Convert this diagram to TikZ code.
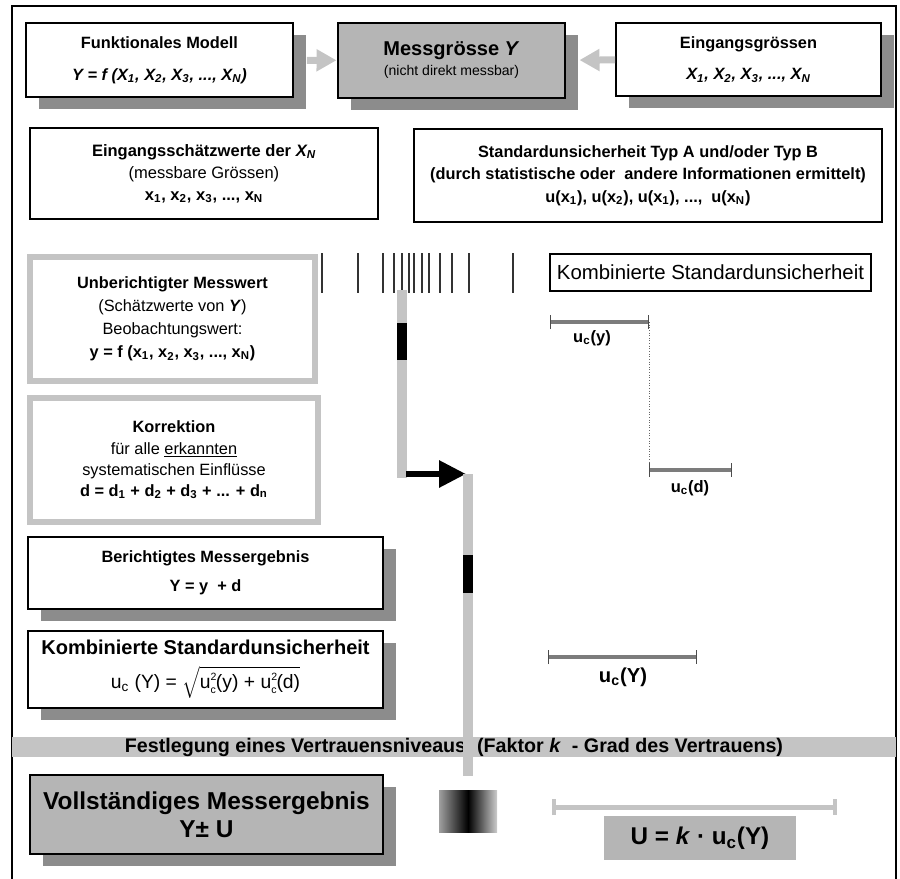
\documentclass[tikz,border=0pt]{standalone}
\usepackage{fontspec}
\setmainfont{Liberation Sans}
\usetikzlibrary{arrows.meta,shadows}
\definecolor{boxgray}{HTML}{B5B5B5}
\definecolor{shadowgray}{HTML}{8C8C8C}
\definecolor{bargray}{HTML}{C4C4C4}
\definecolor{markgray}{HTML}{7C7C7C}
\newcommand\fsize[2]{\fontsize{#1}{#2}\selectfont}
\newcommand\uc{u\rlap{\raisebox{0.75ex}{\fsize{6}{6}2}}\raisebox{-0.55ex}{\fsize{6}{6}c}} % u with stacked 2 and c
\tikzset{%
  >=Triangle, % option for nice arrows
  inner sep=0pt,%
  plain box/.style={draw,line width=1.1pt,fill=white,align=center},%
  shadow box/.style={plain box,drop shadow={shadow xshift=0.26cm,
    shadow yshift=-0.24cm,fill=shadowgray,opacity=1}},%
  frame box/.style={draw=bargray,line width=0.12cm,fill=white,align=center},%
  flow bar/.style={bargray,line width=0.19cm},%
  block arrow/.style={bargray,line width=0.14cm,-{Triangle[length=0.4cm,width=0.42cm]}},%
  span bar/.style={markgray,line width=0.09cm,
    {Bar[width=0.28cm,line width=0.8pt,color=black!70]}-{Bar[width=0.28cm,line width=0.8pt,color=black!70]}},%
  wide bar/.style={bargray,line width=0.1cm,
    {Bar[width=0.32cm,line width=2pt]}-{Bar[width=0.32cm,line width=2pt]}},%
  span label/.style={font=\fsize{9.4}{11}\bfseries}%
}

\begin{document}
\begin{tikzpicture}[x=0.02cm,y=-0.02cm] % one unit = one pixel of the sheet

\def\px{0.02cm} % pixel as a length
\useasboundingbox (0,0) rectangle (900,879);
\draw[line width=2*\px] (12,879) -- (12,6) -- (896,6) -- (896,879);

% top row
\node[shadow box,minimum width=267*\px,minimum height=74*\px,font=\fsize{9.3}{18}\bfseries] (fmodel) at (159.5,60)
  {Funktionales Modell\\ \textit{Y = f (X\textsubscript{1}, X\textsubscript{2}, X\textsubscript{3}, ..., X\textsubscript{N})}};
\node[shadow box,fill=boxgray,line width=1.7pt,minimum width=227*\px,minimum height=75*\px,font=\fsize{9}{11.4}] (mess) at (451.5,60.5)
  {{\fsize{11.4}{13}\bfseries Messgrösse \textit{Y}}\\ {\fsize{8}{10}(nicht direkt messbar)}};
\node[shadow box,minimum width=265*\px,minimum height=73*\px,font=\fsize{9.3}{18}\bfseries] (eingang) at (748.5,59.5)
  {Eingangsgrössen\\ \textit{X\textsubscript{1}, X\textsubscript{2}, X\textsubscript{3}, ..., X\textsubscript{N}}};
\draw[block arrow,shorten <=0.26cm] (fmodel) -- (mess);
\draw[block arrow,shorten >=0.26cm] (eingang) -- (mess);

% input estimates
\node[plain box,minimum width=348*\px,minimum height=91*\px,font=\fsize{9.4}{12.5}] (schaetz) at (204,173.5)
  {{\bfseries Eingangsschätzwerte der \textit{X\textsubscript{N}}}\\ (messbare Grössen)\\
   {\bfseries x\textsubscript{1}, x\textsubscript{2}, x\textsubscript{3}, ..., x\textsubscript{N}}};
\node[plain box,minimum width=468*\px,minimum height=93*\px,font=\fsize{9.3}{12.8}\bfseries] (stdunc) at (648,175.5)
  {Standardunsicherheit Typ A und/oder Typ B\\ (durch statistische oder \ andere Informationen ermittelt)\\
   u(x\textsubscript{1}), u(x\textsubscript{2}), u(x\textsubscript{1}), ..., \ u(x\textsubscript{N})};

% left column
\node[frame box,minimum width=285*\px,minimum height=124*\px,font=\fsize{9.3}{13}] (unber) at (172.5,319)
  {{\bfseries Unberichtigter Messwert}\\ (Schätzwerte von \textbf{\textit{Y}})\\ Beobachtungswert:\\
   {\bfseries y = f (x\textsubscript{1}, x\textsubscript{2}, x\textsubscript{3}, ..., x\textsubscript{N})}};
\node[frame box,minimum width=288*\px,minimum height=124*\px,font=\fsize{9.3}{12}] (korr) at (174,460)
  {{\bfseries Korrektion}\\ für alle \underline{erkannten}\\ systematischen Einflüsse\\
   {\bfseries d = d\textsubscript{1} + d\textsubscript{2} + d\textsubscript{3} + ... + d\textsubscript{n}}};
\node[shadow box,minimum width=355*\px,minimum height=72*\px,font=\fsize{9.3}{16.5}\bfseries] (berich) at (205.5,573)
  {Berichtigtes Messergebnis\\ Y = y \ + d};
\node[shadow box,minimum width=355*\px,minimum height=77*\px,font=\fsize{11}{17.6}] (kombf) at (205.5,669.5)
  {{\fsize{11.4}{13}\bfseries Kombinierte Standardunsicherheit}\\[1.5pt]
   u\textsubscript{c} (Y) = $\sqrt{\mbox{\uc(y) + \uc(d)}}$};
\node[fill=bargray,minimum width=884*\px,minimum height=20*\px,font=\fsize{11.2}{13}\bfseries] (band) at (454,747)
  {Festlegung eines Vertrauensniveaus \ (Faktor \textit{k} \ - Grad des Vertrauens)};
\node[shadow box,fill=boxgray,line width=1.4pt,minimum width=353*\px,minimum height=79*\px,font=\fsize{13.9}{16}\bfseries] (voll) at (206.5,814.5)
  {Vollständiges Messergebnis\\ Y± U};

% observations and the flow bars
\foreach \t in {322,358,383,394,402,409,414,422,429,440,452,469,513}
  \draw[line width=1.5*\px,black!80] (\t,253) -- (\t,293);
\coordinate (top1) at (402,290);
\coordinate (bend1) at (402,478);
\coordinate (arrS) at (406,474);
\coordinate (arrE) at (466,474);
\coordinate (top2) at (468,474);
\coordinate (bot2) at (468,776);
\draw[flow bar] (top1) -- (bend1);
\draw[flow bar,black] (402,323) -- (402,360);
\draw[black,line width=0.12cm,-{Triangle[length=0.54cm,width=0.52cm]}] (arrS) -- (arrE);
\draw[flow bar] (top2) -- (bot2);
\draw[flow bar,black] (468,555) -- (468,593);
\shade[left color=gray!75,right color=gray!40,middle color=black] (439,790) rectangle (497,832);

% right column
\node[plain box,line width=1.2pt,minimum width=321*\px,minimum height=37*\px,font=\fsize{11.6}{14}] (kombr) at (710.5,272.5)
  {Kombinierte Standardunsicherheit};
\coordinate (uy1) at (550,322);
\coordinate (uy2) at (649,322);
\coordinate (ud1) at (649,470);
\coordinate (ud2) at (732,470);
\coordinate (uY1) at (548,657);
\coordinate (uY2) at (697,657);
\coordinate (U1) at (552,807);
\coordinate (U2) at (837,807);
\draw[span bar] (uy1) -- (uy2);
\node[span label] (luy) at (592,338) {u\textsubscript{c}(y)};
\draw[densely dotted,black!60,line width=0.5pt] (uy2) -- (ud1);
\draw[span bar] (ud1) -- (ud2);
\node[span label] (lud) at (690,488) {u\textsubscript{c}(d)};
\draw[span bar] (uY1) -- (uY2);
\node[span label,font=\fsize{11.5}{13}\bfseries] (luY) at (623,677) {u\textsubscript{c}(Y)};
\draw[wide bar] (U1) -- (U2);
\node[fill=boxgray,minimum width=192*\px,minimum height=44*\px,font=\fsize{13.8}{16}\bfseries] (ulab) at (700,838)
  {U = \textit{k} · u\textsubscript{c}(Y)};

\end{tikzpicture}
\end{document}
